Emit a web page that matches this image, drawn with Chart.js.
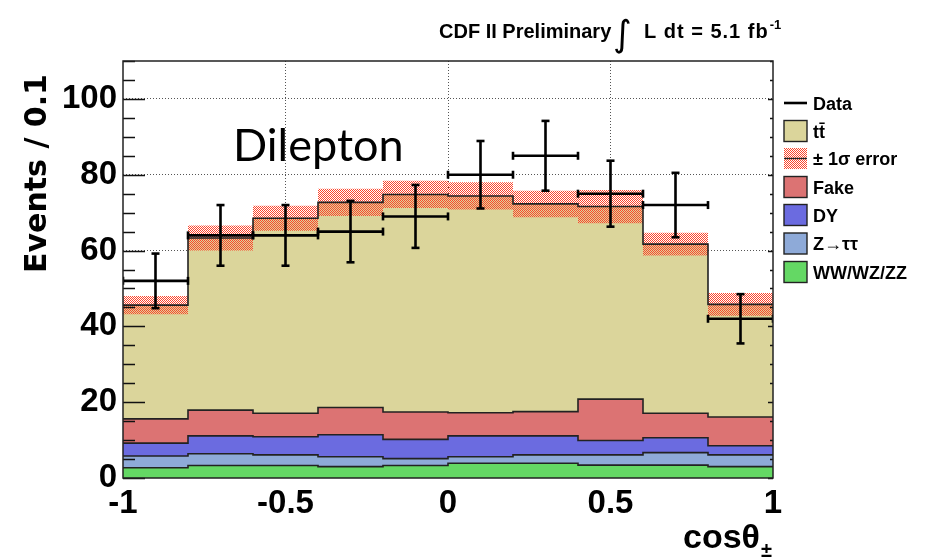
<!DOCTYPE html>
<html>
<head>
<meta charset="utf-8">
<script src="https://cdn.jsdelivr.net/npm/chart.js@4.4.1/dist/chart.umd.min.js"></script>
<style>
html,body{margin:0;padding:0;background:#fff;}
#wrap{width:928px;height:560px;position:relative;}
</style>
</head>
<body>
<div id="wrap"><canvas id="c" width="928" height="560"></canvas></div>
<script>
// ---------- data ----------
const binLow  = [-1.0, -0.8, -0.6, -0.4, -0.2, 0.0, 0.2, 0.4, 0.6, 0.8];
const binTop  = 1.0;
const wwwzzz  = [2.7, 3.3, 3.3, 3.0, 3.3, 3.9, 3.9, 3.4, 3.4, 3.0];
const ztautau = [3.1, 3.1, 2.8, 2.6, 1.8, 1.7, 2.2, 2.7, 3.3, 3.1];
const drellYan= [3.4, 4.7, 4.8, 5.8, 5.1, 5.5, 5.0, 3.8, 3.9, 2.4];
const fake    = [6.4, 6.8, 6.2, 7.2, 7.2, 6.1, 6.4, 10.9, 6.5, 7.6];
const ttbar   = [30.0, 45.4, 51.4, 54.1, 57.4, 57.2, 54.8, 50.8, 44.6, 29.7];
const sigma   = [2.4, 3.3, 3.3, 3.6, 3.6, 3.6, 3.5, 4.4, 3.0, 3.0];
const dataN   = [52, 64, 64, 65, 69, 80, 85, 75, 72, 42];
const dataErr = [7.2, 8.0, 8.0, 8.1, 8.3, 8.9, 9.2, 8.7, 8.5, 6.5];
const xTicks  = [-1, -0.5, 0, 0.5, 1];
const yTicks  = [0, 20, 40, 60, 80, 100];
const legendLabels = ['Data', 'tt\u0304', '\u00b1 1\u03c3 error', 'Fake', 'DY', 'Z\u2192\u03c4\u03c4', 'WW/WZ/ZZ'];

// ---------- styles ----------
const COL = {
  ww:'#64d864', ztt:'#8eaad8', dy:'#6b6be0', fake:'#dc7373', tt:'#dbd59b', line:'#222'
};
function makeHatch(){
  const c = document.createElement('canvas'); c.width = 2; c.height = 2;
  const g = c.getContext('2d');
  g.fillStyle = 'rgb(252,70,45)';
  g.fillRect(0,0,1,1); g.fillRect(1,1,1,1);
  return g.createPattern(c,'repeat');
}
const hatch = makeHatch();

// ---------- derived tables ----------
function addArr(a,b){ return a.map((v,i)=>v+b[i]); }
const c1 = wwwzzz.slice();
const c2 = addArr(c1, ztautau);
const c3 = addArr(c2, drellYan);
const c4 = addArr(c3, fake);
const c5 = addArr(c4, ttbar);
const bandLo = c5.map((v,i)=>v - sigma[i]);
const bandHi = c5.map((v,i)=>v + sigma[i]);
function binHigh(i){ return i < binLow.length-1 ? binLow[i+1] : binTop; }
function steps(vals){
  const pts = binLow.map((x,i)=>({x:x, y:vals[i]}));
  pts.push({x:binTop, y:vals[vals.length-1]});
  return pts;
}
const dataH = [], dataV = [];
dataN.forEach((n,i)=>{
  const lo = binLow[i], hi = binHigh(i), mid = (lo+hi)/2;
  dataH.push({x:lo, y:n}, {x:hi, y:n}, {x:hi, y:null});
  dataV.push({x:mid, y:n-dataErr[i]}, {x:mid, y:n+dataErr[i]}, {x:mid, y:null});
});

function histDs(label, vals, fillTarget, color, order){
  return {label, data:steps(vals), stepped:true, fill:fillTarget, backgroundColor:color,
          borderColor:COL.line, borderWidth:1.6, pointRadius:0, order};
}

const datasets = [
  histDs('WW/WZ/ZZ', c1, 'origin', COL.ww, 10),
  histDs('Z\u2192\u03c4\u03c4', c2, 0, COL.ztt, 9),
  histDs('DY', c3, 1, COL.dy, 8),
  histDs('Fake', c4, 2, COL.fake, 7),
  histDs('tt\u0304', c5, 3, COL.tt, 6),
  {label:'bandLo', data:steps(bandLo), stepped:true, fill:false, borderWidth:0, borderColor:'rgba(0,0,0,0)', pointRadius:0, order:5},
  {label:'\u00b1 1\u03c3 error', data:steps(bandHi), stepped:true, fill:5, backgroundColor:hatch, borderWidth:0, borderColor:'rgba(0,0,0,0)', pointRadius:0, order:4},
  {label:'Data', data:dataH, borderColor:'#000', borderWidth:2.6, spanGaps:false,
   pointStyle:'line', rotation:90, pointRadius:4, pointBorderWidth:2.6, pointBorderColor:'#000', pointHoverRadius:4, order:1},
  {label:'DataErr', data:dataV, borderColor:'#000', borderWidth:2.6, spanGaps:false,
   pointStyle:'line', rotation:0, pointRadius:4, pointBorderWidth:2.6, pointBorderColor:'#000', pointHoverRadius:4, order:0}
];

const decor = {
  id:'decor',
  afterDatasetsDraw(chart){
    const {ctx, chartArea:a, scales:{y}} = chart;
    ctx.save();
    ctx.strokeStyle = '#111'; ctx.lineWidth = 1.4;
    y.ticks.forEach(t=>{
      const py = Math.round(y.getPixelForValue(t.value)) + 0.5;
      const major = yTicks.includes(t.value);
      const L = major ? 22 : 12;
      const R = major ? 5 : 3;
      ctx.beginPath();
      ctx.moveTo(a.left, py); ctx.lineTo(a.left+L, py);
      ctx.moveTo(a.right, py); ctx.lineTo(a.right-R, py);
      ctx.stroke();
    });
    ctx.strokeStyle = '#222'; ctx.lineWidth = 1.5;
    ctx.strokeRect(a.left, a.top, a.right-a.left, a.bottom-a.top);
    ctx.restore();
  },
  afterDraw(chart){
    const {ctx} = chart;
    ctx.save();
    ctx.fillStyle = '#000';
    ctx.textBaseline = 'alphabetic';
    // header
    ctx.font = 'bold 20px "Liberation Sans"';
    ctx.textAlign = 'left';
    ctx.fillText('CDF II Preliminary', 439, 38);
    ctx.font = '36px "DejaVu Sans"';
    ctx.fillText('\u222b', 613, 46);
    ctx.font = 'bold 20px "Liberation Sans"';
    if ('letterSpacing' in ctx) ctx.letterSpacing = '1px';
    const s = 'L dt = 5.1 fb';
    ctx.fillText(s, 644, 38);
    const w = ctx.measureText(s).width;
    if ('letterSpacing' in ctx) ctx.letterSpacing = '0px';
    ctx.font = 'bold 13px "Liberation Sans"';
    ctx.fillText('-1', 644 + w + 1, 29);
    // label inside
    ctx.font = '45px Lato';
    ctx.fillText('Dilepton', 233, 161);
    // x title
    ctx.font = 'bold 34px "Liberation Sans"';
    ctx.textAlign = 'right';
    ctx.fillText('cos\u03b8', 760, 548);
    ctx.font = 'bold 20px "Liberation Sans"';
    ctx.textAlign = 'left';
    ctx.fillText('\u00b1', 761, 557);
    // y title
    ctx.save();
    ctx.translate(46, 273);
    ctx.rotate(-Math.PI/2);
    ctx.font = 'bold 30px "DejaVu Sans"';
    ctx.textAlign = 'left';
    ctx.fillText('Events / 0.1', 0, 0);
    ctx.restore();
    // legend
    const lx = 784, bw = 23, bh = 21, tx = 813;
    const ys = [103, 131, 158.5, 187, 215, 243.5, 272];
    const fills = [null, COL.tt, hatch, COL.fake, COL.dy, COL.ztt, COL.ww];
    ctx.font = 'bold 18px "Liberation Sans"';
    legendLabels.forEach((lab, i)=>{
      const cy = ys[i];
      if (i === 0) {
        ctx.strokeStyle = '#000'; ctx.lineWidth = 2.6;
        ctx.beginPath(); ctx.moveTo(lx, cy); ctx.lineTo(lx+bw, cy); ctx.stroke();
      } else if (i === 2) {
        ctx.fillStyle = hatch; ctx.fillRect(lx, cy-bh/2, bw, bh);
        ctx.strokeStyle = '#222'; ctx.lineWidth = 1.4;
        ctx.beginPath(); ctx.moveTo(lx, cy); ctx.lineTo(lx+bw, cy); ctx.stroke();
      } else {
        ctx.fillStyle = fills[i]; ctx.fillRect(lx, cy-bh/2, bw, bh);
        ctx.strokeStyle = '#222'; ctx.lineWidth = 1.4;
        ctx.strokeRect(lx, cy-bh/2, bw, bh);
      }
      ctx.fillStyle = '#000';
      ctx.fillText(lab, tx, cy + 6.5);
    });
    ctx.restore();
  }
};

new Chart(document.getElementById('c'), {
  type:'line',
  data:{ datasets },
  options:{
    responsive:false, animation:false, devicePixelRatio:1,
    layout:{ padding:{ top:61, right:155, left:0, bottom:0 } },
    plugins:{ legend:{display:false}, tooltip:{enabled:false}, filler:{drawTime:'beforeDatasetsDraw'} },
    elements:{ line:{ tension:0 } },
    scales:{
      x:{
        type:'linear', min:-1, max:1, offset:false,
        ticks:{ stepSize:0.5, autoSkip:false, maxRotation:0, padding:6, color:'#000',
                font:{family:'"Liberation Sans"', weight:'bold', size:33},
                callback:v => xTicks.includes(v) ? String(v) : '' },
        grid:{ drawTicks:false, lineWidth:1,
               color:c => (c.tick && Math.abs(c.tick.value) < 0.99) ? '#555' : 'rgba(0,0,0,0)' },
        border:{ display:false, dash:[1,2] },
        afterFit:s => { s.height = 82; }
      },
      y:{
        type:'linear', min:0, max:110,
        ticks:{ stepSize:5, autoSkip:false, padding:6, color:'#000',
                font:{family:'"Liberation Sans"', weight:'bold', size:33},
                callback:v => yTicks.includes(v) ? String(v) : '' },
        grid:{ drawTicks:false, lineWidth:1,
               color:c => (c.tick && yTicks.includes(c.tick.value) && c.tick.value > 0) ? '#555' : 'rgba(0,0,0,0)' },
        border:{ display:false, dash:[1,2] },
        afterFit:s => { s.width = 123; }
      }
    }
  },
  plugins:[decor]
});
</script>
</body>
</html>
